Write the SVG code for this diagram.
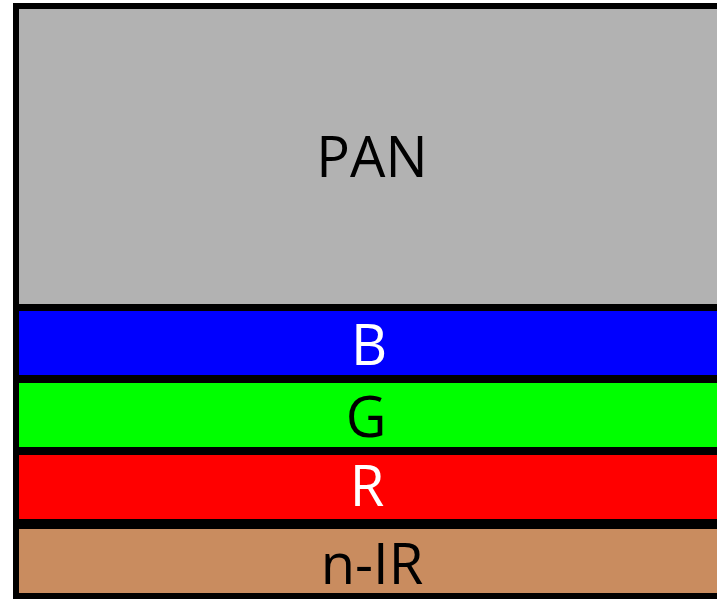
<svg xmlns="http://www.w3.org/2000/svg" width="717" height="601" viewBox="0 0 717 601">
<style>
.band{stroke:#000;stroke-width:6}
.lbl{font-family:"Open Sans","Noto Sans","Liberation Sans",sans-serif;font-size:56px;text-anchor:middle}
</style>
<rect width="717" height="601" fill="#fff"/>
<g id="pan">
<rect class="band" x="16" y="6" width="720" height="301" fill="#b2b2b2"/>
<text class="lbl" x="372" y="177" fill="#000">PAN</text>
</g>
<g id="b">
<rect class="band" x="16" y="308" width="720" height="70" fill="#0000ff"/>
<text class="lbl" x="369" y="365" fill="#fff">B</text>
</g>
<g id="g">
<rect class="band" x="16" y="380" width="720" height="70" fill="#00ff00"/>
<text class="lbl" x="366" y="437" fill="#000">G</text>
</g>
<g id="r">
<rect class="band" x="16" y="452" width="720" height="70" fill="#ff0000"/>
<text class="lbl" x="367" y="506" fill="#fff">R</text>
</g>
<g id="nir">
<rect class="band" x="16" y="526" width="720" height="70" fill="#c98c5f"/>
<text class="lbl" x="372" y="584" fill="#000">n-IR</text>
</g>
<g id="connectors"></g>
</svg>
